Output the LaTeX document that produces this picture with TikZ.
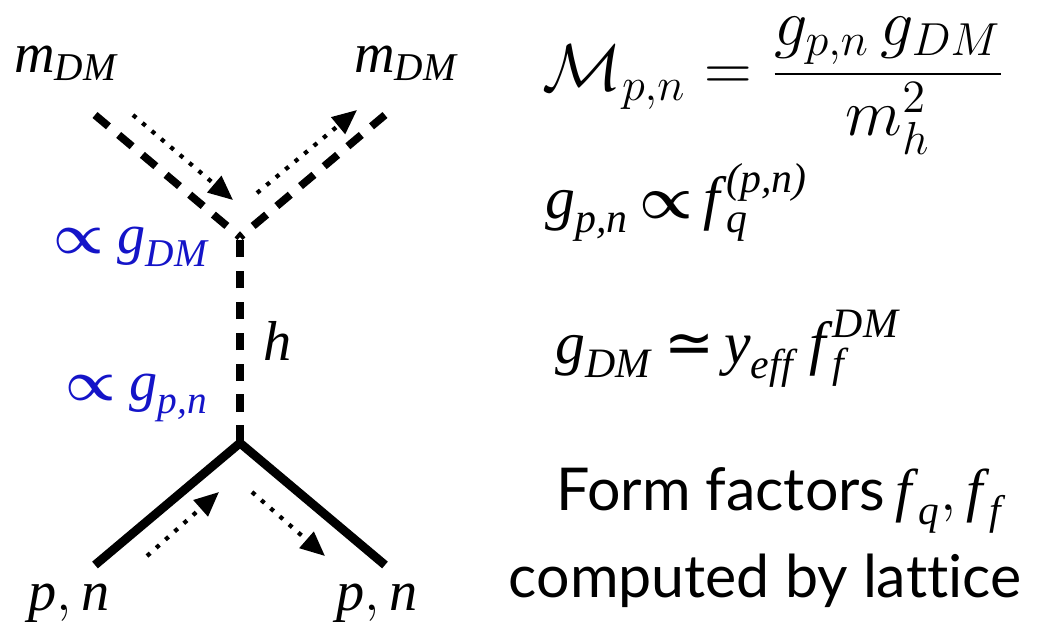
\RequirePackage{fix-cm}
\documentclass[tikz,border=0pt]{standalone}
\usepackage{fontspec}
\usepackage{amsmath}
\usepackage{bm}
\setmainfont{Liberation Serif}
\newfontfamily\sansfont[Ligatures=NoCommon]{Lato}
\newfontfamily\serifit{Liberation Serif}
\newfontfamily\symbfont{DejaVu Sans}
\usetikzlibrary{arrows.meta, positioning}
\definecolor{azulacople}{RGB}{20,20,200}
\newcommand{\ti}[1]{\text{\serifit\itshape #1\/}}
\newcommand{\prop}{$\bm{\propto}$}

\begin{document}
\begin{tikzpicture}[x=0.01cm, y=-0.01cm,
    escalar/.style={line width=2.2pt, dash pattern=on 5pt off 3.8pt},
    fermion/.style={line width=2.5pt, line join=miter},
    flujo/.style={line width=1.2pt, dash pattern=on 1.2pt off 2.3pt, -{Triangle[length=7pt, width=6pt]}},
    etiqueta/.style={inner sep=0pt, anchor=base, font=\fontsize{16}{19}\selectfont},
    acople/.style={etiqueta, text=azulacople},
    ecuacion/.style={inner sep=0pt, anchor=base west, font=\fontsize{17}{20}\selectfont},
    texto/.style={inner sep=0pt, anchor=base, font=\sansfont\fontsize{16.8}{20}\selectfont}]

    \useasboundingbox (0,0) rectangle (1050,623);

    % Vertices y extremos de las patas
    \coordinate (vsup) at (240,237);
    \coordinate (vinf) at (240,443);
    \coordinate (dmin) at (95,115);
    \coordinate (dmout) at (385,115);
    \coordinate (nin) at (95,565);
    \coordinate (nout) at (385,565);

    % Patas del diagrama
    \draw[escalar] (dmin) -- (vsup);
    \draw[escalar] (dmout) -- (vsup);
    \draw[escalar] (vinf) -- (vsup);
    \draw[fermion] (nin) -- (vinf) -- (nout);

    % Flechas de flujo (punteadas)
    \coordinate (f1a) at (133,115); \coordinate (f1b) at (233,200);
    \coordinate (f2a) at (257,193); \coordinate (f2b) at (357,110);
    \coordinate (f3a) at (147,556); \coordinate (f3b) at (219,492);
    \coordinate (f4a) at (252,492); \coordinate (f4b) at (325,556);
    \draw[flujo] (f1a) -- (f1b);
    \draw[flujo] (f2a) -- (f2b);
    \draw[flujo] (f3a) -- (f3b);
    \draw[flujo] (f4a) -- (f4b);

    % Etiquetas de las particulas
    \node[etiqueta] (mdmin) at (67,72) {$\ti{m}_{\ti{DM}}$};
    \node[etiqueta] (mdmout) at (407,72) {$\ti{m}_{\ti{DM}}$};
    \node[etiqueta] (hlabel) at (278,360) {$\ti{h}$};
    \node[etiqueta] (pnin) at (69,610) {$\ti{p}, \ti{n}$};
    \node[etiqueta] (pnout) at (377,610) {$\ti{p}, \ti{n}$};

    % Acoples en azul
    \node[acople] (acdm) at (132,253) {\prop\ $\ti{g}_{\ti{DM}}$};
    \node[acople] (acpn) at (137,400) {\prop\ $\ti{g}_{\ti{p,n}}$};

    % Ecuaciones a la derecha
    \node[inner sep=0pt, font=\fontsize{18.8}{22}\selectfont] (amplitud) at (774,86)
        {$\displaystyle \mathcal{M}_{p,n} = \frac{g_{p,n}\,g_{DM}}{m_h^2}$};
    \node[ecuacion] (gpn) at (545,218)
        {$\ti{g}_{\ti{p,n}}$\,\prop\,$\ti{f}^{\ti{(p,n)}}_{\ti{q}}$};
    \node[ecuacion] (gdm) at (555,363)
        {$\ti{g}_{\ti{DM}}$\,{\symbfont ≃}\,$\ti{y}_{\ti{eff}}\,\ti{f}^{\ti{DM}}_{\ti{f}}$};

    % Texto final
    \node[texto] (formf) at (782,510) {Form factors\,$\ti{f}_{\ti{q}}, \ti{f}_{\ti{f}}$};
    \node[texto] (lattice) at (765,597) {computed by lattice};
\end{tikzpicture}
\end{document}
